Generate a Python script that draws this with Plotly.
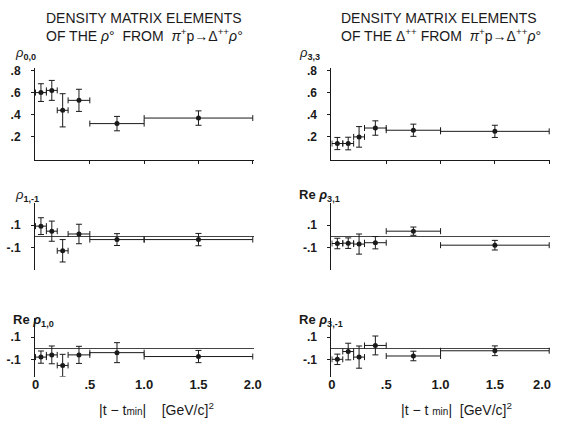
import plotly.graph_objects as go

# ---- data ----
x_center = [0.05, 0.15, 0.25, 0.40, 0.75, 1.50]
x_lo = [0.00, 0.10, 0.20, 0.30, 0.50, 1.00]
x_hi = [0.10, 0.20, 0.30, 0.50, 1.00, 2.00]

rho00 = [0.60, 0.62, 0.44, 0.53, 0.32, 0.37]
rho00_err = [0.08, 0.09, 0.15, 0.10, 0.065, 0.065]

rho1m1 = [0.09, 0.045, -0.13, 0.02, -0.03, -0.03]
rho1m1_err = [0.075, 0.09, 0.10, 0.087, 0.053, 0.055]

re_rho10 = [-0.08, -0.06, -0.155, -0.06, -0.04, -0.075]
re_rho10_err = [0.055, 0.08, 0.10, 0.077, 0.09, 0.055]

rho33 = [0.14, 0.14, 0.20, 0.28, 0.26, 0.25]
rho33_err = [0.055, 0.057, 0.093, 0.065, 0.055, 0.055]

re_rho31 = [-0.065, -0.062, -0.07, -0.058, 0.045, -0.08]
re_rho31_err = [0.047, 0.047, 0.09, 0.055, 0.037, 0.043]

re_rho3m1 = [-0.10, -0.03, -0.08, 0.025, -0.07, -0.023]
re_rho3m1_err = [0.047, 0.075, 0.10, 0.085, 0.043, 0.044]

top_ticks = [0.2, 0.4, 0.6, 0.8]
top_ticktext = [".2", ".4", ".6", ".8"]
small_ticks = [0.1, -0.1]
small_ticktext = [".1", "-.1"]
x_ticks = [0, 0.5, 1.0, 1.5, 2.0]
x_ticktext_left = ["0", ".5", "1.0", "1.5", "2.0"]
x_ticktext_right = ["0", ".5", "1.0", "1.5", "2.0\u00a0\u00a0\u00a0\u00a0"]

W, H = 574, 421
INK = "#1a1a1a"
FONT = "Liberation Sans"


def px(x):
    return x / W


def py(y):
    return 1 - y / H


fig = go.Figure()

panels = [
    (rho00, rho00_err),
    (rho33, rho33_err),
    (rho1m1, rho1m1_err),
    (re_rho31, re_rho31_err),
    (re_rho10, re_rho10_err),
    (re_rho3m1, re_rho3m1_err),
]

err_plus = [h - c for h, c in zip(x_hi, x_center)]
err_minus = [c - l for c, l in zip(x_center, x_lo)]

for i, (vals, errs) in enumerate(panels):
    n = "" if i == 0 else str(i + 1)
    fig.add_trace(go.Scatter(
        x=x_center, y=vals, mode="markers",
        marker=dict(color=INK, size=5),
        error_x=dict(type="data", array=err_plus, arrayminus=err_minus,
                     symmetric=False, color=INK, thickness=1, width=3),
        error_y=dict(type="data", array=errs, color=INK, thickness=1, width=3),
        xaxis="x" + n, yaxis="y" + n, cliponaxis=False, showlegend=False,
        hoverinfo="skip",
    ))

xdom_left = [px(33), px(259)]
xdom_right = [px(339), px(565)]
ydom_top = [py(157), py(64)]
ydom_mid = [py(268), py(200)]
ydom_bot = [py(376), py(317)]

tickfont = dict(family=FONT, size=12, color=INK, weight="bold")

layout = dict(
    width=W, height=H, margin=dict(l=0, r=0, t=0, b=0),
    paper_bgcolor="white", plot_bgcolor="white", showlegend=False,
    font=dict(family=FONT, color=INK), hovermode=False,
)

for i in range(6):
    n = "" if i == 0 else str(i + 1)
    row = i // 2
    col = i % 2
    xd = xdom_left if col == 0 else xdom_right
    yd = [ydom_top, ydom_mid, ydom_bot][row]
    xa = dict(domain=xd, range=[-0.005, 2.01], anchor="y" + n,
              showgrid=False, zeroline=False, fixedrange=True)
    ya = dict(domain=yd, anchor="x" + n, showgrid=False,
              showline=True, linecolor=INK, linewidth=1,
              ticks="outside", ticklen=3, tickcolor=INK,
              ticklabelstandoff=8,
              tickfont=tickfont, fixedrange=True)
    if row == 0:
        xa.update(showline=True, linecolor=INK, linewidth=1, ticks="outside",
                  ticklen=3, tickcolor=INK, tickvals=[0.5, 1.0, 1.5, 2.0],
                  showticklabels=False)
        ya.update(range=[-0.01, 0.82], tickvals=top_ticks,
                  ticktext=top_ticktext, zeroline=False)
    else:
        if row == 1:
            xa.update(showline=False, showticklabels=False, ticks="")
            ya.update(range=[-0.3, 0.3])
        else:
            xa.update(showline=False, ticks="", ticklen=0, tickvals=x_ticks,
                      ticktext=x_ticktext_left if col == 0 else x_ticktext_right,
                      ticklabelstandoff=-2,
                      tickfont=dict(family=FONT, size=13, color=INK, weight="bold"))
            ya.update(range=[-0.255, 0.27])
        ya.update(tickvals=small_ticks, ticktext=small_ticktext,
                  zeroline=True, zerolinecolor="#444", zerolinewidth=1)
    layout["xaxis" + n] = xa
    layout["yaxis" + n] = ya

fig.update_layout(**layout)

ann = []


def text(x, y, s, size=12, anchor="left", weight="normal"):
    ann.append(dict(x=px(x), y=py(y), xref="paper", yref="paper", text=s,
                    showarrow=False, xanchor=anchor, yanchor="middle",
                    borderpad=0,
                    font=dict(family=FONT, size=size, color=INK, weight=weight)))


# titles
text(43, 13, "DENSITY MATRIX ELEMENTS", size=14)
text(43, 30, "OF THE <i>ρ</i>°  FROM  <i>π</i><sup>+</sup>p→Δ<sup>++</sup><i>ρ</i>°", size=14)
text(348, 13, "DENSITY MATRIX ELEMENTS", size=14)
text(348, 30, "OF THE Δ<sup>++</sup> FROM  <i>π</i><sup>+</sup>p→Δ<sup>++</sup><i>ρ</i>°", size=14)

# panel labels
text(11, 49, "<i>ρ</i><sub><b>0,0</b></sub>", size=13)
text(11, 193, "<i>ρ</i><sub><b>1,-1</b></sub>", size=13)
text(9, 319, "Re <i>ρ</i><sub><b>1,0</b></sub>", size=13, weight="bold")
text(305, 49, "<i>ρ</i><sub><b>3,3</b></sub>", size=13)
text(305, 193, "Re <i>ρ</i><sub><b>3,1</b></sub>", size=13, weight="bold")
text(305, 319, "Re <i>ρ</i><sub><b>3,-1</b></sub>", size=13, weight="bold")

# axis titles
text(98, 409, "|t − t<span style='font-size:10px'>min</span>|    [GeV/c]<sup>2</sup>", size=14)
text(410, 409, "|t − t <span style='font-size:10px'>min</span>|  [GeV/c]<sup>2</sup>", size=14)

fig.update_layout(annotations=ann)
fig.write_html(
    "out.html",
    config={"displayModeBar": False, "staticPlot": True},
    post_script="document.body.style.margin='0';document.body.style.padding='0';",
)
